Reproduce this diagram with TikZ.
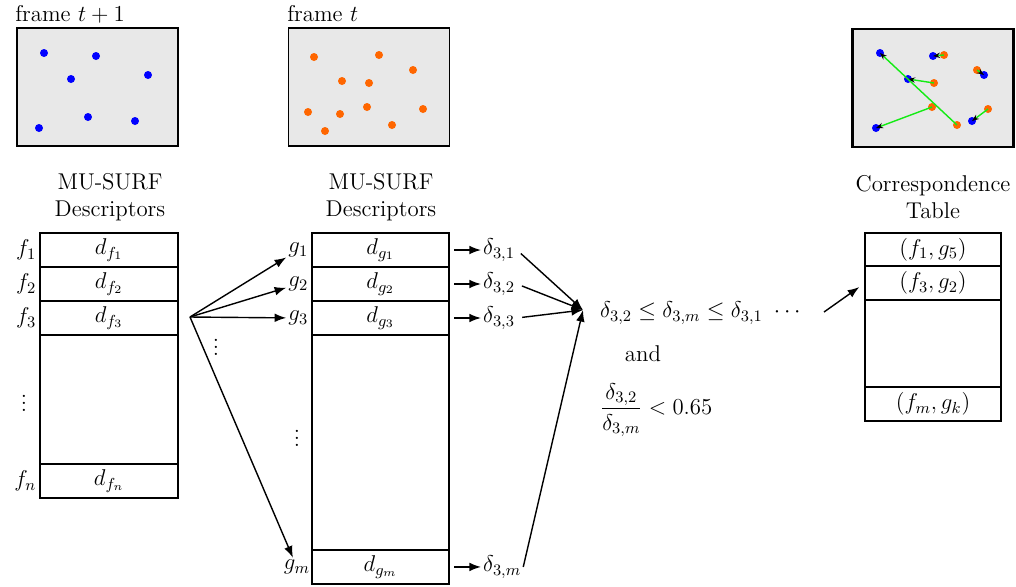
\documentclass[tikz,border=0pt]{standalone}
\usepackage{fix-cm}
\usepackage{amsmath,amssymb}
\usepackage{xcolor}
\usetikzlibrary{arrows.meta,positioning,calc}
\definecolor{kpblue}{RGB}{0,0,255}
\definecolor{kporange}{RGB}{255,102,0}
\definecolor{kpgreen}{RGB}{20,235,20}

\begin{document}
\begin{tikzpicture}[x=0.02cm, y=-0.02cm, font=\fontsize{13}{15.5}\selectfont, >=Latex]
\tikzstyle{cell}=[draw, thick, minimum width=2.76cm, minimum height=0.68cm, inner sep=0pt, outer sep=0pt]
\tikzstyle{frm}=[draw, thick, fill=black!9, minimum width=3.22cm, minimum height=2.36cm, inner sep=0pt]
\tikzstyle{lbl}=[inner sep=1pt]
\tikzstyle{ttl}=[align=center]
\useasboundingbox (0,0) rectangle (1016,586);

% frames
\node[frm] (fa) at (97.5,87) {};
\node[frm] (fb) at (369,87) {};
\node[frm, very thick] (fc) at (933,88) {};
\node[anchor=base west, inner sep=0pt] (fal) at (15,21) {frame $t+1$};
\node[anchor=base west, inner sep=0pt] (fbl) at (287,21) {frame $t$};
\foreach \x/\y in {44/53, 96/56, 71/79, 148/75, 88/117, 135/121, 39/128}
  \fill[kpblue] (\x,\y) circle[radius=0.08cm];
\foreach \x/\y in {314/57, 379/55, 413/70, 342/81, 369/83, 308/112, 340/114, 367/107, 423/109, 392/125, 325/131}
  \fill[kporange] (\x,\y) circle[radius=0.08cm];
\foreach \x/\y in {880/53, 933/56, 908/79, 984/75, 876/128, 972/121}
  \fill[kpblue] (\x,\y) circle[radius=0.08cm];
\foreach \x/\y in {944/55, 977/70, 934/83, 932/107, 988/109, 957/125}
  \fill[kporange] (\x,\y) circle[radius=0.08cm];
\foreach \ox/\oy/\bx/\by in {944/55/933/56, 977/70/984/75, 934/83/908/79, 932/107/876/128, 988/109/972/121, 957/125/880/53}
  \draw[kpgreen, thick, -{Stealth[color=black, length=4pt, width=3pt]}] (\ox,\oy) -- (\bx,\by);

% frame t+1 descriptors
\node[ttl] (ta) at (110,197) {MU-SURF\\Descriptors};
\node[cell] (df1) at (109,250) {$d_{f_1}$};
\node[cell, below=0pt of df1] (df2) {$d_{f_2}$};
\node[cell, below=0pt of df2] (df3) {$d_{f_3}$};
\node[cell, below=0pt of df3, minimum height=2.58cm] (dfe) {};
\node[cell, below=0pt of dfe] (dfn) {$d_{f_n}$};
\node[lbl, left=1pt of df1] (f1) {$f_1$};
\node[lbl, left=1pt of df2] (f2) {$f_2$};
\node[lbl, left=1pt of df3] (f3) {$f_3$};
\node[lbl, left=1pt of dfn] (fn) {$f_n$};
\node (fdots) at (24,398) {$\vdots$};

% frame t descriptors
\node[ttl] (tb) at (381,197) {MU-SURF\\Descriptors};
\node[cell, minimum width=2.74cm] (dg1) at (380.5,250) {$d_{g_1}$};
\node[cell, minimum width=2.74cm, below=0pt of dg1] (dg2) {$d_{g_2}$};
\node[cell, minimum width=2.74cm, below=0pt of dg2] (dg3) {$d_{g_3}$};
\node[cell, minimum width=2.74cm, below=0pt of dg3, minimum height=4.3cm] (dge) {};
\node[cell, minimum width=2.74cm, below=0pt of dge] (dgm) {$d_{g_m}$};
\node[lbl, left=1pt of dg1] (g1) {$g_1$};
\node[lbl, left=1pt of dg2] (g2) {$g_2$};
\node[lbl, left=1pt of dg3] (g3) {$g_3$};
\node[lbl, left=0pt of dgm] (gm) {$g_m$};
\node (gdots) at (297,433) {$\vdots$};

% matching f3 against all g
\coordinate (fan) at (190,317);
\draw[->, thick] (fan) -- (g1);
\draw[->, thick] (fan) -- (g2);
\draw[->, thick] (fan) -- (g3);
\draw[->, thick] (fan) -- (gm);
\node (fandots) at (216,342) {$\vdots$};

% distances
\node[lbl, right=0.64cm of dg1] (d31) {$\delta_{3,1}$};
\node[lbl, right=0.64cm of dg2] (d32) {$\delta_{3,2}$};
\node[lbl, right=0.64cm of dg3] (d33) {$\delta_{3,3}$};
\node[lbl, right=0.64cm of dgm] (d3m) {$\delta_{3,m}$};
\draw[->, thick, shorten <=3pt] (dg1) -- (d31);
\draw[->, thick, shorten <=3pt] (dg2) -- (d32);
\draw[->, thick, shorten <=3pt] (dg3) -- (d33);
\draw[->, thick, shorten <=3pt] (dgm) -- (d3m);
\coordinate (cv) at (583,310);
\draw[->, thick, shorten <=3pt] (d31.east) -- (cv);
\draw[->, thick, shorten <=3pt] (d32.east) -- (cv);
\draw[->, thick, shorten <=3pt] (d33.east) -- (cv);
\draw[->, thick] (d3m.east) -- (cv);

% ratio test
\node[anchor=west] (ineq) at (594,313) {$\delta_{3,2} \le \delta_{3,m} \le \delta_{3,1}\ \cdots$};
\node (and) at (643,354) {and};
\node[anchor=west] (ratio) at (594,410) {$\dfrac{\delta_{3,2}}{\delta_{3,m}} < 0.65$};

% correspondence table
\node[ttl] (tc) at (933,197) {Correspondence\\Table};
\node[cell, minimum width=2.72cm, minimum height=0.66cm] (ct1) at (933,249.5) {$(f_1, g_5)$};
\node[cell, minimum width=2.72cm, below=0pt of ct1] (ct2) {$(f_3, g_2)$};
\node[cell, minimum width=2.72cm, below=0pt of ct2, minimum height=1.74cm] (cte) {};
\node[cell, minimum width=2.72cm, below=0pt of cte] (ctm) {$(f_m, g_k)$};
\coordinate (ctin) at (824,312);
\draw[->, thick, shorten >=4pt] (ctin) -- (ct2.west);
\end{tikzpicture}
\end{document}
